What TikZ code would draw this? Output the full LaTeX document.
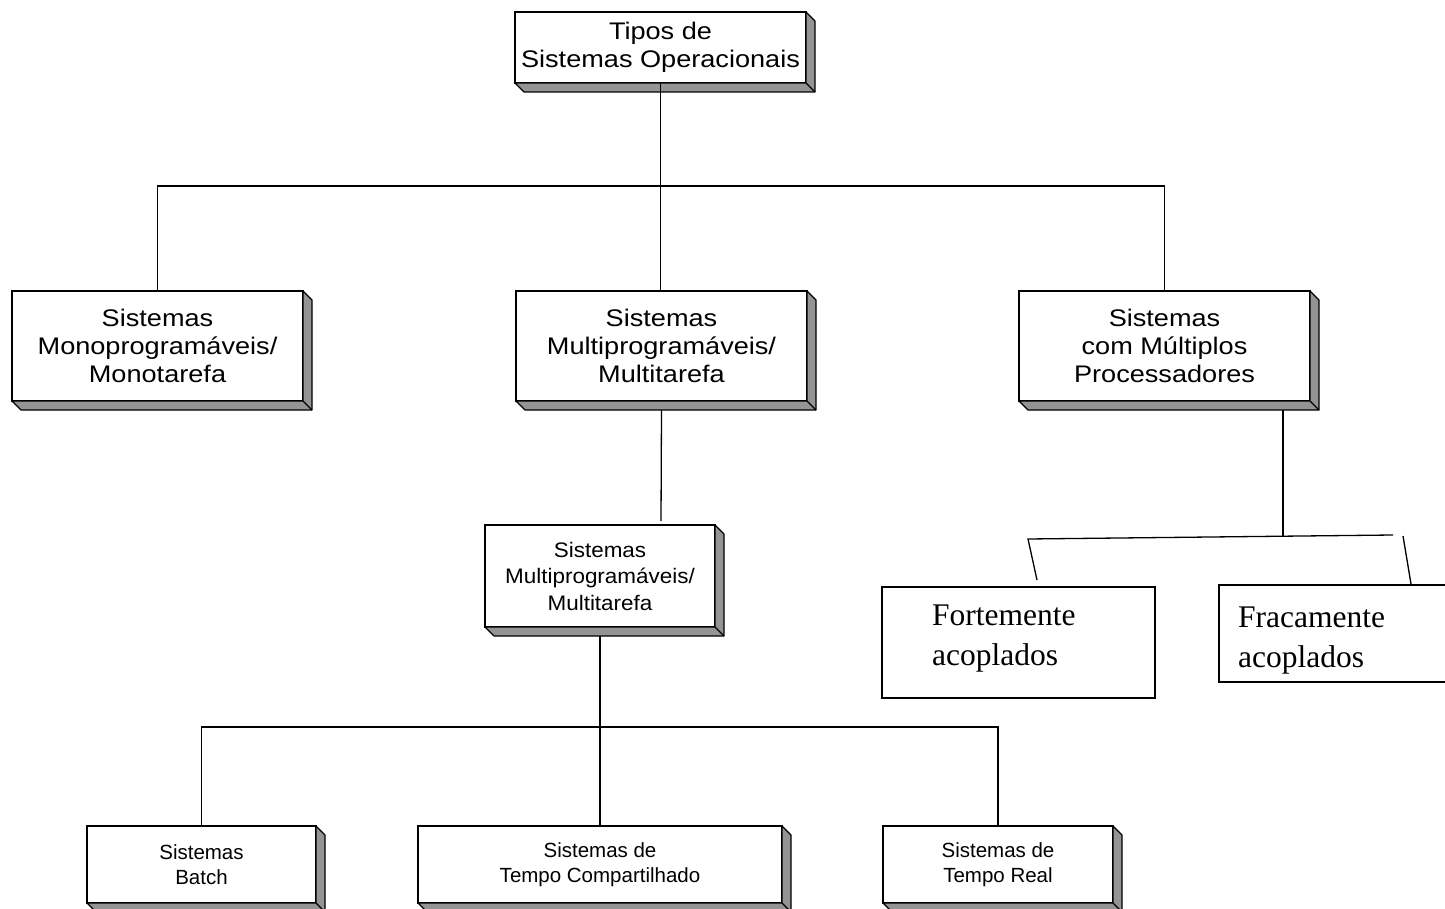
\documentclass[tikz,border=0pt]{standalone}
\usepackage{fontspec}
\setmainfont{Liberation Serif}
\newfontfamily\bigsans[FakeStretch=1.13]{Liberation Sans}
\newfontfamily\midsans[FakeStretch=1.07]{Liberation Sans}
\newfontfamily\smallsans{Liberation Sans}
\usetikzlibrary{calc}
\tikzset{
  box3d/.style={draw, fill=white, line width=1.1pt, align=center, inner sep=0pt, outer sep=0pt},
  bigtext/.style={font=\bigsans\fontsize{24}{28}\selectfont},
  midtext/.style={font=\midsans\fontsize{21}{26.5}\selectfont},
  smalltext/.style={font=\smallsans\fontsize{20.5}{25}\selectfont},
  plainbox/.style={draw, line width=1.3pt, inner sep=0pt, outer sep=0pt, anchor=north west},
  plaintext/.style={inner sep=0pt, anchor=north west, align=left, font=\fontsize{31.5}{40}\selectfont},
  conn/.style={line width=1.3pt},
  depthface/.style={fill=black!42, draw, line width=1.1pt, line join=round},
}
\begin{document}
\begin{tikzpicture}[x=1pt,y=-1pt]
\useasboundingbox (0,0) rectangle (1445,909);

% 3D boxes
\node[box3d, bigtext, minimum width=291, minimum height=71] (top) at (660.5,47.5) {Tipos de\\Sistemas Operacionais};
\node[box3d, bigtext, minimum width=291, minimum height=110] (mono) at (157.5,346) {Sistemas\\Monoprogramáveis/\\Monotarefa};
\node[box3d, bigtext, minimum width=291, minimum height=110] (multi) at (661.5,346) {Sistemas\\Multiprogramáveis/\\Multitarefa};
\node[box3d, bigtext, minimum width=291, minimum height=110] (proc) at (1164.5,346) {Sistemas\\com Múltiplos\\Processadores};
\node[box3d, midtext, minimum width=230, minimum height=102] (mid) at (600,576) {Sistemas\\Multiprogramáveis/\\Multitarefa};
\node[box3d, smalltext, minimum width=229, minimum height=77] (batch) at (201.5,864.5) {Sistemas\\Batch};
\node[box3d, smalltext, minimum width=364, minimum height=77] (tc) at (600,864.5) {Sistemas de\\Tempo Compartilhado};
\node[box3d, smalltext, minimum width=230, minimum height=77] (tr) at (998,864.5) {Sistemas de\\Tempo Real};

\foreach \n in {top,mono,multi,proc,mid,batch,tc,tr}{
  \draw[depthface] (\n.north east) -- ($(\n.north east)+(9,9)$) -- ($(\n.south east)+(9,9)$)
     -- ($(\n.south west)+(9,9)$) -- (\n.south west) -- (\n.south east) -- cycle;
  \draw[line width=1.1pt] (\n.south east) -- ($(\n.south east)+(9,9)$);
}

% plain boxes
\node[plainbox, minimum width=273, minimum height=111] (forte) at (882,587) {};
\node[plaintext] (fortetxt) at (932,605) {Fortemente\\acoplados};
\node[plainbox, minimum width=245, minimum height=97] (fraca) at (1219,585) {};
\node[plaintext] (fracatxt) at (1238,607) {Fracamente\\acoplados};

% connectors
\coordinate (j1) at (661,186);
\draw[conn] (top.south) -- (top.south |- multi.north);
\draw[conn] (mono.north) -- (mono.north |- j1) -- (proc.north |- j1) -- (proc.north);

\coordinate (mtend) at (661,521);
\draw[conn] ($(multi.south)+(0,9)$) -- (mtend);

\coordinate (j2) at (600,727);
\draw[conn] ($(mid.south)+(0,9)$) -- (tc.north);
\draw[conn] (batch.north) -- (batch.north |- j2) -- (tr.north |- j2) -- (tr.north);

\coordinate (j3) at (1283,537);
\draw[conn] ($(proc.south -| j3)+(0,9)$) -- (j3);
\coordinate (hl) at (1028,539);
\coordinate (hr) at (1393,535);
\coordinate (sl) at (1037,580);
\coordinate (srt) at (1403,536);
\coordinate (srb) at (1411,584);
\draw[conn] (sl) -- (hl) -- (hr);
\draw[conn] (srt) -- (srb);
\end{tikzpicture}
\end{document}
